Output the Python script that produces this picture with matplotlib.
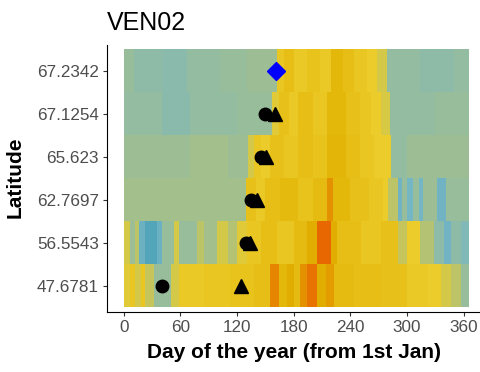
import numpy as np
import matplotlib
matplotlib.use("Agg")
import matplotlib.pyplot as plt
from matplotlib.colors import LinearSegmentedColormap

plt.rcParams['font.family'] = ['Liberation Sans', 'DejaVu Sans']

# Latitude rows, bottom to top
latitudes = ["47.6781", "56.5543", "62.7697", "65.623", "67.1254", "67.2342"]

# Daily index per row, stored as runs: day edges and the value of each run (0-1)
edges_47 = [0.5, 7, 12, 18, 23, 32, 49.5, 58, 85, 113, 138, 155, 164, 173, 180,
            187, 194, 205, 214, 222.5, 244, 272, 300, 322, 336, 346, 357, 365.5]
vals_47 = [0.48, 0.55, 0.45, 0.55, 0.42, 0.32, 0.45, 0.52, 0.55, 0.58, 0.62, 0.82,
           0.68, 0.75, 0.65, 0.80, 0.85, 0.75, 0.78, 0.65, 0.62, 0.60, 0.52, 0.50,
           0.45, 0.40, 0.32]

edges_56 = [0.5, 7, 12, 16, 23, 35, 40.5, 53, 58, 78, 85, 99, 110, 120, 131, 145,
            162, 180, 194, 205, 219, 226, 251, 272, 290, 300, 314, 329, 339, 346,
            357, 365.5]
vals_56 = [0.45, 0.33, 0.40, 0.20, 0.10, 0.20, 0.32, 0.45, 0.32, 0.40, 0.34, 0.45,
           0.38, 0.48, 0.55, 0.62, 0.55, 0.65, 0.75, 0.87, 0.75, 0.62, 0.55, 0.60,
           0.42, 0.50, 0.38, 0.30, 0.22, 0.30, 0.27]

edges_62 = [0.5, 129, 140, 150, 165, 185, 200, 215, 222, 240, 260, 275, 280, 290,
            295, 300, 306, 313, 317, 332, 341, 365.5]
vals_62 = [0.34, 0.60, 0.52, 0.62, 0.66, 0.58, 0.65, 0.80, 0.68, 0.60, 0.55, 0.50,
           0.40, 0.22, 0.32, 0.24, 0.32, 0.24, 0.33, 0.22, 0.32]

edges_65 = [0.5, 70, 110, 132, 138, 145, 155, 170, 185, 200, 215, 235, 250, 265,
            283, 300, 365.5]
vals_65 = [0.33, 0.34, 0.33, 0.45, 0.55, 0.50, 0.60, 0.55, 0.62, 0.58, 0.70, 0.62,
           0.55, 0.50, 0.31, 0.33]

edges_671 = [0.5, 40, 70, 120, 157, 164, 175, 185, 200, 215, 235, 250, 262, 272,
             282, 330, 365.5]
vals_671 = [0.31, 0.29, 0.31, 0.32, 0.48, 0.60, 0.52, 0.62, 0.55, 0.68, 0.60, 0.55,
            0.50, 0.46, 0.31, 0.32]

edges_672 = [0.5, 11, 42, 67, 102, 131, 162, 170, 180, 194, 208, 219, 232, 244,
             258, 268, 279, 314, 350, 365.5]
vals_672 = [0.32, 0.30, 0.29, 0.31, 0.32, 0.33, 0.55, 0.62, 0.52, 0.58, 0.52, 0.68,
            0.62, 0.55, 0.50, 0.45, 0.31, 0.30, 0.31]

row_edges = [edges_47, edges_56, edges_62, edges_65, edges_671, edges_672]
row_vals = [vals_47, vals_56, vals_62, vals_65, vals_671, vals_672]

# Event days per row (None where absent)
circle_days = [40.6, 129, 135, 145, 150, None]
triangle_days = [124, 134, 141, 151, 160.5, None]
diamond_day = 161
diamond_row = "67.2342"

zissou = LinearSegmentedColormap.from_list(
    "zissou", ["#3B9AB2", "#78B7C5", "#EBCC2A", "#E1AF00", "#F21A00"])

W, H = 481, 372
fig = plt.figure(figsize=(W / 100, H / 100), dpi=100)
px_day = 0.9444
xmin, xmax = -17.75, 383.75
ax = fig.add_axes([107 / W, 60.3 / H, (xmax - xmin) * px_day / W, 266.8 / H])

for i, (e, v) in enumerate(zip(row_edges, row_vals)):
    ax.pcolormesh(e, [i + 0.5, i + 1.5], np.array(v)[None, :], cmap=zissou,
                  vmin=0, vmax=1, shading='flat', edgecolors='none',
                  antialiased=False)

ys = np.arange(1, len(latitudes) + 1)
cx = [d for d in circle_days if d is not None]
cy = [y for d, y in zip(circle_days, ys) if d is not None]
tx = [d for d in triangle_days if d is not None]
ty = [y for d, y in zip(triangle_days, ys) if d is not None]
ax.plot(cx, cy, 'o', color='black', markersize=9, zorder=3)
ax.plot(tx, ty, '^', color='black', markersize=10.5, zorder=3)
ax.plot([diamond_day], [latitudes.index(diamond_row) + 1], 'D', color='#0000FF',
        markersize=9.5, zorder=4)

ax.set_xlim(xmin, xmax)
ax.set_ylim(0.4, len(latitudes) + 0.6)
ax.set_xticks([0, 60, 120, 180, 240, 300, 360])
ax.set_yticks(ys)
ax.set_yticklabels(latitudes)
for s in ['top', 'right']:
    ax.spines[s].set_visible(False)
for s in ['left', 'bottom']:
    ax.spines[s].set_linewidth(0.8)
    ax.spines[s].set_color('black')
ax.tick_params(axis='both', length=3, width=0.8, color='#333333',
               labelsize=12.3, labelcolor='#4D4D4D', pad=3)

fig.text(107 / W, 1 - 30 / H, "VEN02", fontsize=18, ha='left', va='baseline')
fig.text(15.5 / W, 1 - 177 / H, "Latitude", fontsize=15, fontweight='bold',
         rotation=90, ha='center', va='center')
fig.text(294 / W, 1 - 358 / H, "Day of the year (from 1st Jan)", fontsize=15,
         fontweight='bold', ha='center', va='baseline')

fig.savefig("out.png", dpi=100)
